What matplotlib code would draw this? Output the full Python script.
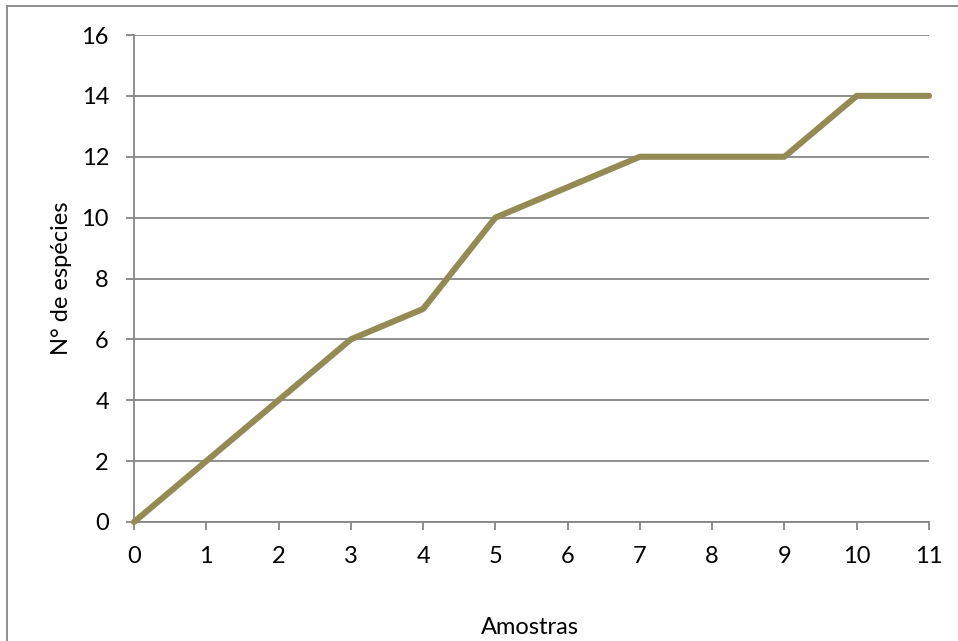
import matplotlib
matplotlib.use("Agg")
import matplotlib.pyplot as plt
from matplotlib.patches import Rectangle

amostras = [0, 1, 2, 3, 4, 5, 6, 7, 8, 9, 10, 11]
especies = [0, 2, 4, 6, 7, 10, 11, 12, 12, 12, 14, 14]
y_ticks = [0, 2, 4, 6, 8, 10, 12, 14, 16]

plt.rcParams['font.family'] = ['Lato', 'DejaVu Sans']

fig = plt.figure(figsize=(9.58, 6.41), dpi=100)
W, H = 958, 641
ax = fig.add_axes([134 / W, 1 - 522 / H, (929 - 134) / W, (522 - 35) / H])

grid_col = '#868686'
line_col = '#948A54'

ax.plot(amostras, especies, color=line_col, lw=4.4, solid_capstyle='round',
        solid_joinstyle='round', zorder=3, clip_on=False)

ax.set_xlim(0, 11)
ax.set_ylim(0, 16)
ax.set_xticks(amostras)
ax.set_yticks(y_ticks)
ax.yaxis.grid(True, color=grid_col, lw=1.3)
ax.set_axisbelow(True)

for side in ('top', 'right'):
    ax.spines[side].set_visible(False)
for side in ('left', 'bottom'):
    ax.spines[side].set_color(grid_col)
    ax.spines[side].set_linewidth(1.3)

ax.tick_params(axis='both', color=grid_col, width=1.3, length=6,
               labelsize=17, direction='out')
ax.tick_params(axis='x', pad=11)
ax.tick_params(axis='y', pad=12)

fig.text(62 / W, 1 - 278 / H, 'N° de espécies', fontsize=17, rotation=90,
         ha='center', va='center')
fig.text(530 / W, 1 - 627 / H, 'Amostras', fontsize=17, ha='center', va='center')

# outer chart frame
fig.patches.append(Rectangle((7 / W, -0.1), 1.2, 1 - 6 / H + 0.1,
                             transform=fig.transFigure, fill=False,
                             edgecolor=grid_col, lw=1.3))

fig.savefig('out.png', dpi=100)
